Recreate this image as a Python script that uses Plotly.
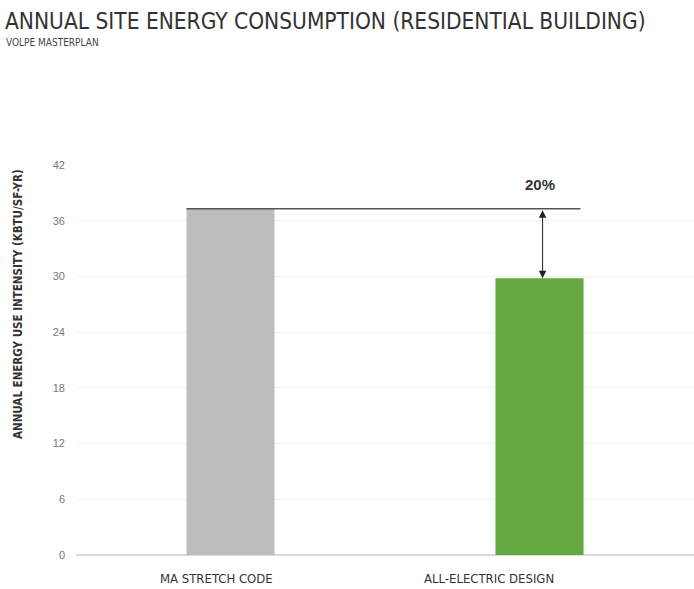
import plotly.graph_objects as go

# Annual site energy use intensity (kBtu/sf-yr)
categories = ["MA STRETCH CODE", "ALL-ELECTRIC DESIGN"]
eui_values = [37.3, 29.8]
bar_colors = ["#bdbdbd", "#66a840"]
y_ticks = [0, 6, 12, 18, 24, 30, 36, 42]

NARROW = "DejaVu Sans Condensed, Liberation Sans Narrow, Arial Narrow, sans-serif"
REGULAR = "Liberation Sans, Arial, sans-serif"

W, H = 694, 589
M_L, M_R, M_T, M_B = 76, 0, 165, 34
PLOT_W = W - M_L - M_R
PLOT_H = H - M_T - M_B


def px_to_paper(px, py):
    """Convert a page pixel position to plot-area paper coordinates."""
    return (px - M_L) / PLOT_W, (H - M_B - py) / PLOT_H


reduction = 1 - eui_values[1] / eui_values[0]
bar_width = 0.285

fig = go.Figure()
fig.add_trace(go.Bar(
    x=categories,
    y=eui_values,
    marker=dict(color=bar_colors, line=dict(width=0)),
    width=bar_width,
    hoverinfo="x+y",
))

# Reference line at the baseline level, spanning both bars
fig.add_shape(
    type="line", xref="x", yref="y",
    x0=-bar_width / 2, x1=1 + bar_width / 2 - 0.01,
    y0=eui_values[0], y1=eui_values[0],
    line=dict(color="#555555", width=1.5),
)

# Double-headed arrow showing the savings
fig.add_annotation(
    x=1.01, y=eui_values[1],
    ax=1.01, ay=eui_values[0],
    xref="x", yref="y", axref="x", ayref="y",
    showarrow=True, arrowside="end+start", arrowhead=2, arrowsize=1.5,
    arrowwidth=1, arrowcolor="#222222", text="",
)
fig.add_annotation(
    x=categories[1], y=eui_values[0],
    xref="x", yref="y", yshift=24, showarrow=False,
    text=f"<b>{reduction:.0%}</b>",
    font=dict(family=REGULAR, size=15, color="#333333"),
)

# Title, subtitle and y-axis label
tx, ty = px_to_paper(3, 21)
fig.add_annotation(
    x=tx, y=ty, xref="paper", yref="paper",
    xanchor="left", yanchor="middle", showarrow=False,
    text="ANNUAL SITE ENERGY CONSUMPTION (RESIDENTIAL BUILDING)",
    font=dict(family=NARROW, size=22.5, color="#333333"),
)
sx, sy = px_to_paper(4, 42)
fig.add_annotation(
    x=sx, y=sy, xref="paper", yref="paper",
    xanchor="left", yanchor="middle", showarrow=False,
    text="VOLPE MASTERPLAN",
    font=dict(family=NARROW, size=10, color="#444444"),
)
lx, ly = px_to_paper(18, 304)
fig.add_annotation(
    x=lx, y=ly, xref="paper", yref="paper",
    xanchor="center", yanchor="middle", showarrow=False, textangle=-90,
    text="<b>ANNUAL ENERGY USE INTENSITY (KBTU/SF-YR)</b>",
    font=dict(family=NARROW, size=11.5, color="#333333"),
)

# Category labels
for label, px in zip(categories, [216, 489]):
    cx, cy = px_to_paper(px, 578)
    fig.add_annotation(
        x=cx, y=cy, xref="paper", yref="paper",
        xanchor="center", yanchor="middle", showarrow=False,
        text=label,
        font=dict(family=NARROW, size=13, color="#333333"),
    )

fig.update_layout(
    width=W, height=H,
    margin=dict(l=M_L, r=M_R, t=M_T, b=M_B),
    paper_bgcolor="white", plot_bgcolor="white",
    showlegend=False,
)

fig.update_xaxes(
    type="category", showgrid=False, zeroline=False, showline=False,
    ticks="", showticklabels=False,
)
fig.update_yaxes(
    range=[0, 42], tickvals=y_ticks, ticktext=[str(t) for t in y_ticks],
    showgrid=True, gridcolor="#f2f2f2", gridwidth=1,
    zeroline=True, zerolinecolor="#d9d9d9", zerolinewidth=1.5,
    showline=False, ticks="", ticklabelstandoff=10,
    tickfont=dict(family=REGULAR, size=11, color="#777777"),
)

fig.write_html("out.html")
